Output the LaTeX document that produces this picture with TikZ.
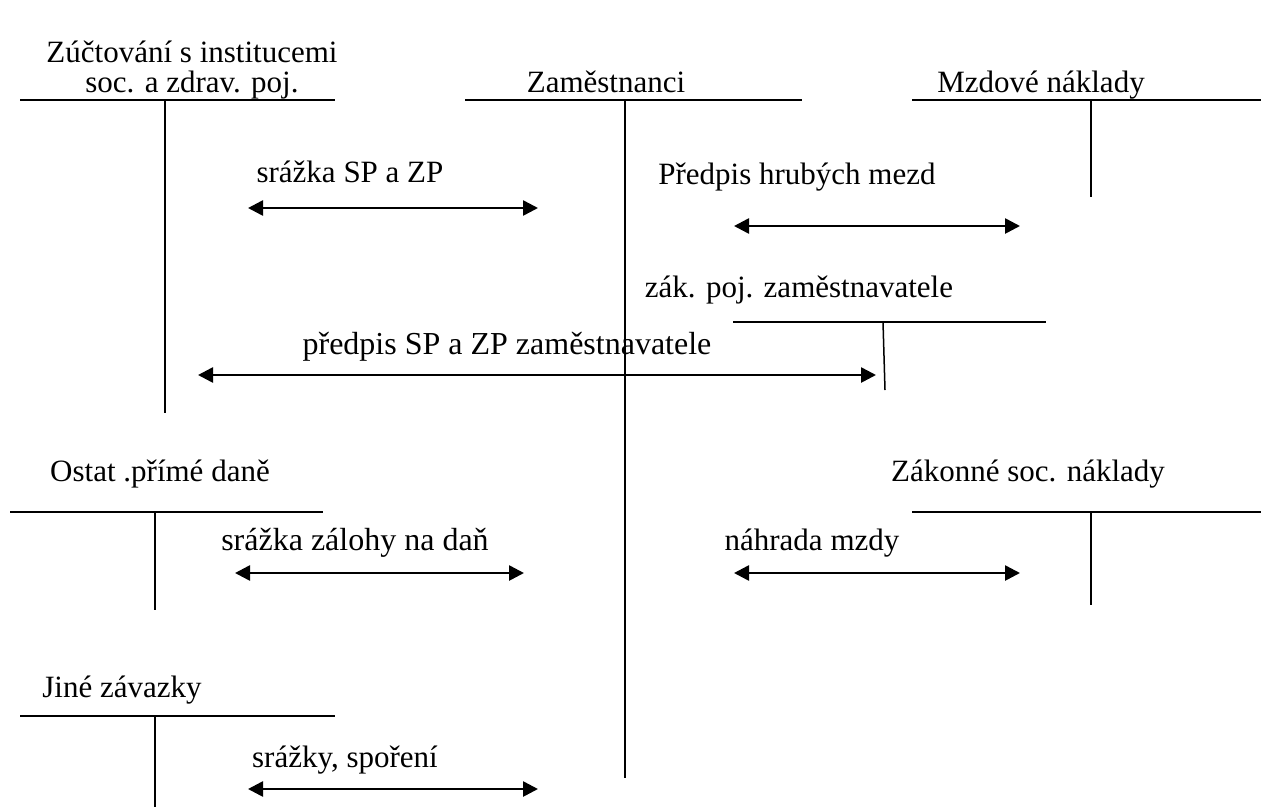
\documentclass[tikz,border=0pt]{standalone}
\usepackage{fontspec}
\setmainfont{Liberation Serif}
\usetikzlibrary{arrows.meta}
\begin{document}
\begin{tikzpicture}[x=1pt,y=-1pt,
  tline/.style={line width=1.5pt},
  flow/.style={line width=2.6pt,{Triangle[length=15pt,width=15pt]}-{Triangle[length=15pt,width=15pt]}},
  lbl/.style={font=\fontsize{31}{36}\selectfont,inner sep=0pt,anchor=base},
  every node/.style={lbl}]
\useasboundingbox (0,0) rectangle (1261,807);
% T-account 1
\node (t1a) at (192,62) {Zúčtování s institucemi};
\node (t1b) at (192,92) {soc. a zdrav. poj.};
\draw[tline] (20,100) coordinate (h1l) -- (335,100) coordinate (h1r);
\draw[tline] (165,100) coordinate (v1t) -- (165,413) coordinate (v1b);
% T-account 2
\node (t2) at (606,92) {Zaměstnanci};
\draw[tline] (465,100) coordinate (h2l) -- (802,100) coordinate (h2r);
\draw[tline] (625,100) coordinate (v2t) -- (625,778) coordinate (v2b);
% T-account 3
\node (t3) at (1041,92) {Mzdové náklady};
\draw[tline] (912,100) coordinate (h3l) -- (1261,100) coordinate (h3r);
\draw[tline] (1091,100) coordinate (v3t) -- (1091,197) coordinate (v3b);
% T-account 4
\node (t4) at (799,297) {zák. poj. zaměstnavatele};
\draw[tline] (733,322) coordinate (h4l) -- (1046,322) coordinate (h4r);
\draw[tline] (883,322) coordinate (v4t) -- (885,390) coordinate (v4b);
% T-account 5
\node (t5) at (160,481) {Ostat .přímé daně};
\draw[tline] (10,512) coordinate (h5l) -- (323,512) coordinate (h5r);
\draw[tline] (155,512) coordinate (v5t) -- (155,610) coordinate (v5b);
% T-account 6
\node (t6) at (1028,481) {Zákonné soc. náklady};
\draw[tline] (912,512) coordinate (h6l) -- (1261,512) coordinate (h6r);
\draw[tline] (1091,512) coordinate (v6t) -- (1091,605) coordinate (v6b);
% T-account 7
\node (t7) at (122,697) {Jiné závazky};
\draw[tline] (20,716) coordinate (h7l) -- (335,716) coordinate (h7r);
\draw[tline] (155,716) coordinate (v7t) -- (155,807) coordinate (v7b);
% flows
\node (l1) at (350,182) {srážka SP a ZP};
\coordinate (a1l) at (248,208); \coordinate (a1r) at (538,208);
\draw[flow] (a1l) -- (a1r);
\node (l2) at (797,184) {Předpis hrubých mezd};
\coordinate (a2l) at (734,226); \coordinate (a2r) at (1020,226);
\draw[flow] (a2l) -- (a2r);
\node[font=\fontsize{32}{37}\selectfont] (l3) at (507,354) {předpis SP a ZP zaměstnavatele};
\coordinate (a3l) at (198,375); \coordinate (a3r) at (876,375);
\draw[flow] (a3l) -- (a3r);
\node[font=\fontsize{32}{37}\selectfont] (l4) at (355,550) {srážka zálohy na daň};
\coordinate (a4l) at (235,573); \coordinate (a4r) at (524,573);
\draw[flow] (a4l) -- (a4r);
\node (l5) at (812,550) {náhrada mzdy};
\coordinate (a5l) at (734,573); \coordinate (a5r) at (1020,573);
\draw[flow] (a5l) -- (a5r);
\node (l6) at (345,767) {srážky, spoření};
\coordinate (a6l) at (248,789); \coordinate (a6r) at (538,789);
\draw[flow] (a6l) -- (a6r);
\end{tikzpicture}
\end{document}
